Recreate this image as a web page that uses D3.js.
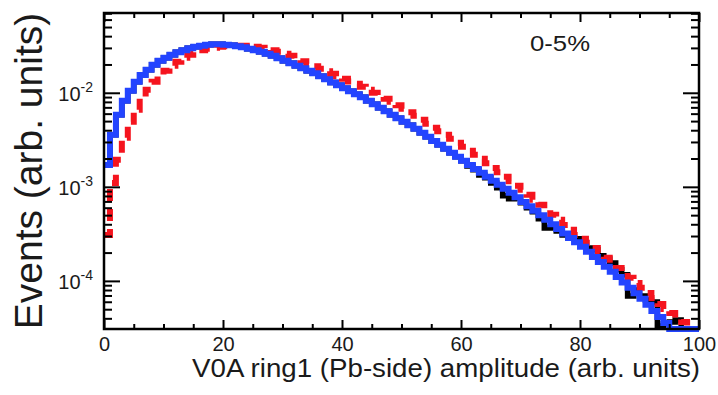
<!DOCTYPE html>
<html>
<head>
<meta charset="utf-8">
<script src="https://cdn.jsdelivr.net/npm/d3@7"></script>
<style>
  body { margin: 0; background: #fff; }
  svg { display: block; }
  text { font-family: "Liberation Sans", Arial, Helvetica, sans-serif; fill: #1a1a1a; }
</style>
</head>
<body>
<svg id="chart" width="718" height="395"></svg>
<script>
// per-bin values, bins of width 1 from 0 to 100
const blueValues = [
  1.71e-3, 3.57e-3, 5.83e-3, 8.22e-3, 1.05e-2, 1.31e-2, 1.55e-2, 1.76e-2, 1.99e-2, 2.19e-2,
  2.36e-2, 2.54e-2, 2.70e-2, 2.83e-2, 2.97e-2, 3.08e-2, 3.16e-2, 3.24e-2, 3.28e-2, 3.28e-2,
  3.24e-2, 3.20e-2, 3.13e-2, 3.05e-2, 2.94e-2, 2.83e-2, 2.73e-2, 2.60e-2, 2.48e-2, 2.33e-2,
  2.19e-2, 2.06e-2, 1.94e-2, 1.82e-2, 1.71e-2, 1.61e-2, 1.50e-2, 1.39e-2, 1.29e-2, 1.20e-2,
  1.12e-2, 1.04e-2, 9.64e-3, 8.96e-3, 8.22e-3, 7.55e-3, 6.92e-3, 6.36e-3, 5.83e-3, 5.36e-3,
  4.91e-3, 4.51e-3, 4.14e-3, 3.75e-3, 3.40e-3, 3.08e-3, 2.80e-3, 2.54e-3, 2.30e-3, 2.09e-3,
  1.89e-3, 1.71e-3, 1.55e-3, 1.41e-3, 1.28e-3, 1.16e-3, 1.05e-3, 9.52e-4, 8.63e-4, 7.73e-4,
  6.92e-4, 6.21e-4, 5.56e-4, 4.98e-4, 4.46e-4, 3.99e-4, 3.57e-4, 3.20e-4, 2.86e-4, 2.57e-4,
  2.30e-4, 2.04e-4, 1.80e-4, 1.59e-4, 1.41e-4, 1.25e-4, 1.10e-4, 9.64e-5, 8.43e-5, 7.37e-5,
  6.44e-5, 5.56e-5, 4.80e-5, 4.14e-5, 3.57e-5, 3.00e-5, 2.60e-5, 2.30e-5, 2.00e-5, 1.80e-5
];
const redValues = [
  3.08e-4, 1.10e-3, 1.94e-3, 3.32e-3, 4.91e-3, 6.59e-3, 8.85e-3, 1.08e-2, 1.31e-2, 1.52e-2,
  1.71e-2, 1.94e-2, 2.14e-2, 2.36e-2, 2.54e-2, 2.70e-2, 2.83e-2, 2.94e-2, 3.01e-2, 3.08e-2,
  3.13e-2, 3.16e-2, 3.16e-2, 3.16e-2, 3.13e-2, 3.08e-2, 3.01e-2, 2.94e-2, 2.83e-2, 2.73e-2,
  2.60e-2, 2.48e-2, 2.30e-2, 2.16e-2, 2.04e-2, 1.91e-2, 1.80e-2, 1.69e-2, 1.59e-2, 1.50e-2,
  1.41e-2, 1.32e-2, 1.25e-2, 1.16e-2, 1.08e-2, 1.00e-2, 9.29e-3, 8.63e-3, 8.02e-3, 7.36e-3,
  6.76e-3, 6.21e-3, 5.69e-3, 5.16e-3, 4.68e-3, 4.25e-3, 3.89e-3, 3.57e-3, 3.24e-3, 2.94e-3,
  2.67e-3, 2.42e-3, 2.19e-3, 1.99e-3, 1.78e-3, 1.59e-3, 1.43e-3, 1.28e-3, 1.15e-3, 1.03e-3,
  9.29e-4, 8.22e-4, 7.28e-4, 6.44e-4, 5.69e-4, 5.04e-4, 4.46e-4, 3.94e-4, 3.49e-4, 3.08e-4,
  2.80e-4, 2.54e-4, 2.24e-4, 1.99e-4, 1.76e-4, 1.55e-4, 1.37e-4, 1.22e-4, 1.08e-4, 9.52e-5,
  8.43e-5, 7.45e-5, 6.59e-5, 5.69e-5, 5.04e-5, 4.57e-5, 4.04e-5, 3.66e-5, 3.32e-5, 2.80e-5
];
const blackValues = [
  1.71e-3, 3.57e-3, 5.83e-3, 8.22e-3, 1.05e-2, 1.31e-2, 1.55e-2, 1.76e-2, 1.99e-2, 2.19e-2,
  2.36e-2, 2.54e-2, 2.70e-2, 2.83e-2, 2.97e-2, 3.08e-2, 3.16e-2, 3.24e-2, 3.28e-2, 3.28e-2,
  3.24e-2, 3.20e-2, 3.13e-2, 3.05e-2, 2.94e-2, 2.83e-2, 2.73e-2, 2.60e-2, 2.48e-2, 2.33e-2,
  2.19e-2, 2.06e-2, 1.94e-2, 1.82e-2, 1.71e-2, 1.61e-2, 1.50e-2, 1.39e-2, 1.29e-2, 1.20e-2,
  1.12e-2, 1.04e-2, 9.64e-3, 8.96e-3, 8.22e-3, 7.55e-3, 6.92e-3, 6.36e-3, 5.83e-3, 5.36e-3,
  4.91e-3, 4.51e-3, 4.14e-3, 3.75e-3, 3.40e-3, 3.08e-3, 2.80e-3, 2.54e-3, 2.30e-3, 2.09e-3,
  1.89e-3, 1.67e-3, 1.52e-3, 1.34e-3, 1.25e-3, 1.10e-3, 9.75e-4, 8.02e-4, 7.45e-4, 7.64e-4,
  6.76e-4, 5.98e-4, 5.42e-4, 4.57e-4, 3.66e-4, 3.75e-4, 3.40e-4, 3.08e-4, 2.86e-4, 2.80e-4,
  2.48e-4, 2.24e-4, 2.14e-4, 1.85e-4, 1.71e-4, 1.55e-4, 1.31e-4, 1.16e-4, 6.92e-5, 8.02e-5,
  6.92e-5, 6.28e-5, 5.98e-5, 3.32e-5, 3.50e-5, 3.66e-5, 3.85e-5, 2.50e-5, 2.20e-5, 2.00e-5
];

const xMajorTicks = [0, 20, 40, 60, 80, 100];
const yDecadeTicks = [1e-4, 1e-3, 1e-2];
const yDecadeExponents = ['-4', '-3', '-2'];
const xTitle = 'V0A ring1 (Pb-side) amplitude (arb. units)';
const yTitle = 'Events (arb. units)';
const centralityLabel = '0-5%';

const svg = d3.select('#chart');
const plotLeft = 104, plotRight = 699, plotTop = 13, plotBottom = 329;

const x = d3.scaleLinear().domain([0, 100]).range([plotLeft, plotRight]);
const y = d3.scaleLog().domain([3.08e-5, 0.0705]).range([plotBottom, plotTop]).clamp(true);

// minor ticks
const xMinor = d3.range(5, 100, 5).filter(d => d % 20 !== 0);
const yMinor = [];
[1e-5, 1e-4, 1e-3, 1e-2].forEach(dec => {
  for (let k = 2; k <= 9; k++) {
    const v = dec * k;
    if (v > y.domain()[0] && v < y.domain()[1]) yMinor.push(v);
  }
});

const stepLine = d3.line()
  .x(d => x(d[0]))
  .y(d => y(d[1]))
  .curve(d3.curveStepAfter);

function binsToPoints(vals) {
  const pts = vals.map((v, i) => [i, v]);
  pts.push([vals.length, vals[vals.length - 1]]);
  return pts;
}

// histograms: black, red dashed, blue on top
svg.append('path')
  .attr('d', stepLine(binsToPoints(blackValues)))
  .attr('fill', 'none')
  .attr('stroke', '#000')
  .attr('stroke-width', 5.5);

svg.append('path')
  .attr('d', stepLine(binsToPoints(redValues)))
  .attr('fill', 'none')
  .attr('stroke', '#f5141e')
  .attr('stroke-width', 6)
  .attr('stroke-dasharray', '12,8');

svg.append('path')
  .attr('d', stepLine(binsToPoints(blueValues)))
  .attr('fill', 'none')
  .attr('stroke', '#2344ff')
  .attr('stroke-width', 6);

// axes (ticks inside the frame)
function addAxis(axis, transform) {
  const g = svg.append('g').attr('transform', transform).call(axis);
  g.select('.domain').remove();
  g.selectAll('.tick line').attr('stroke', '#000').attr('stroke-width', 2);
  return g;
}

const xAxisBottom = addAxis(
  d3.axisBottom(x).tickValues(xMajorTicks).tickSize(-9).tickPadding(8).tickFormat(d3.format('d')),
  `translate(0,${plotBottom})`);
xAxisBottom.selectAll('text')
  .attr('font-size', 20)
  .attr('font-family', '"Liberation Sans", Arial, sans-serif')
  .attr('fill', '#1a1a1a');

addAxis(d3.axisBottom(x).tickValues(xMinor).tickSize(-5).tickFormat(''), `translate(0,${plotBottom})`);
addAxis(d3.axisTop(x).tickValues(xMajorTicks).tickSize(-9).tickFormat(''), `translate(0,${plotTop})`);
addAxis(d3.axisTop(x).tickValues(xMinor).tickSize(-5).tickFormat(''), `translate(0,${plotTop})`);

addAxis(d3.axisLeft(y).tickValues(yDecadeTicks).tickSize(-16).tickFormat(''), `translate(${plotLeft},0)`);
addAxis(d3.axisLeft(y).tickValues(yMinor).tickSize(-8).tickFormat(''), `translate(${plotLeft},0)`);
addAxis(d3.axisRight(y).tickValues(yDecadeTicks).tickSize(-16).tickFormat(''), `translate(${plotRight},0)`);
addAxis(d3.axisRight(y).tickValues(yMinor).tickSize(-8).tickFormat(''), `translate(${plotRight},0)`);

// frame
svg.append('rect')
  .attr('x', plotLeft).attr('y', plotTop)
  .attr('width', plotRight - plotLeft).attr('height', plotBottom - plotTop)
  .attr('fill', 'none')
  .attr('stroke', '#000')
  .attr('stroke-width', 2.5);

// y tick labels: 10^n
const yLabels = svg.append('g');
yDecadeTicks.forEach((v, i) => {
  const t = yLabels.append('text')
    .attr('x', 93)
    .attr('y', y(v) + 8)
    .attr('text-anchor', 'end')
    .attr('font-size', 20);
  t.append('tspan').text('10');
  t.append('tspan')
    .attr('font-size', 14)
    .attr('dy', -9)
    .text(yDecadeExponents[i]);
});

// titles
svg.append('text')
  .attr('transform', 'translate(42,171) rotate(-90)')
  .attr('text-anchor', 'middle')
  .attr('font-size', 39)
  .text(yTitle);

svg.append('text')
  .attr('x', 192)
  .attr('y', 377)
  .attr('font-size', 25)
  .attr('textLength', 508)
  .attr('lengthAdjust', 'spacingAndGlyphs')
  .text(xTitle);

svg.append('text')
  .attr('x', 530)
  .attr('y', 51)
  .attr('font-size', 22)
  .attr('textLength', 60)
  .attr('lengthAdjust', 'spacingAndGlyphs')
  .text(centralityLabel);
</script>
</body>
</html>
